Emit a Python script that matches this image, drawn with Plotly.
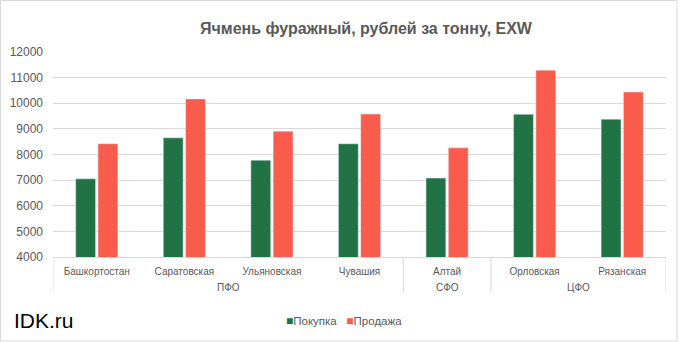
import plotly.graph_objects as go

regions = ["ПФО", "ПФО", "ПФО", "ПФО", "СФО", "ЦФО", "ЦФО"]
oblasts = ["Башкортостан", "Саратовская", "Ульяновская", "Чувашия", "Алтай", "Орловская", "Рязанская"]
buy = [7050, 8650, 7780, 8420, 7080, 9570, 9380]
sell = [8420, 10170, 8910, 9580, 8260, 11290, 10440]
y_ticks = [4000, 5000, 6000, 7000, 8000, 9000, 10000, 11000, 12000]
series_names = ["Покупка", "Продажа"]
colors = ["#217346", "#F95C4D"]

W, H = 681, 342
ml, mr, mt, mb = 53, 15, 52, 85
pw, ph = W - ml - mr, H - mt - mb

def px_x(p):
    return (p - ml) / pw

def px_y(p):
    return (H - mb - p) / ph

font = "Liberation Sans, Arial, sans-serif"
grey = "#595959"
line_grey = "#d9d9d9"

fig = go.Figure()
fig.add_trace(go.Bar(x=oblasts, y=buy, name=series_names[0], marker_color=colors[0]))
fig.add_trace(go.Bar(x=oblasts, y=sell, name=series_names[1], marker_color=colors[1]))

fig.update_layout(
    width=W, height=H,
    margin=dict(l=ml, r=mr, t=mt, b=mb, autoexpand=False),
    paper_bgcolor="white", plot_bgcolor="white",
    barmode="group", bargap=0.49, bargroupgap=0.11,
    title=dict(text="<b>Ячмень фуражный, рублей за тонну, EXW</b>",
               font=dict(family=font, size=16, color=grey),
               x=px_x(366), xref="paper", xanchor="center",
               y=1 - 28 / H, yanchor="middle"),
    font=dict(family=font, color=grey),
    showlegend=False,
)
fig.update_yaxes(range=[4000, 12000], tickvals=y_ticks, ticktext=[str(v) for v in y_ticks],
                 showgrid=True, gridcolor=line_grey,
                 gridwidth=1, zeroline=False, showline=False, ticklabelstandoff=9,
                 tickfont=dict(size=12, color=grey, family=font), ticks="")
fig.update_xaxes(type="category", range=[-0.5, len(oblasts) - 0.5],
                 showline=True, linecolor=line_grey, linewidth=1,
                 ticklabelstandoff=5, showgrid=False,
                 tickfont=dict(size=10, color=grey, family=font), ticks="")

# group labels and dividers (second category level)
groups = []
for i, r in enumerate(regions):
    if groups and groups[-1][0] == r:
        groups[-1][2] = i
    else:
        groups.append([r, i, i])
div_y0, div_y1 = px_y(292), 0
for name, a, b in groups:
    fig.add_annotation(text=name, x=(a + b) / 2, xref="x", y=px_y(287), yref="paper",
                       showarrow=False, xanchor="center", yanchor="middle",
                       font=dict(family=font, size=10, color=grey))
    fig.add_shape(type="line", xref="x", yref="paper", x0=a - 0.5, x1=a - 0.5,
                  y0=div_y0, y1=div_y1, line=dict(color=line_grey, width=1))
last = groups[-1][2] + 0.5
fig.add_shape(type="line", xref="x", yref="paper", x0=last, x1=last,
              y0=div_y0, y1=div_y1, line=dict(color=line_grey, width=1))

# legend drawn as text entries
legend_text = "   ".join(
    f'<span style="color:{c};font-size:12px">■</span><span style="color:{grey}">{n}</span>'
    for n, c in zip(series_names, colors))
fig.add_annotation(text=legend_text, x=px_x(344), y=px_y(321), xref="paper", yref="paper",
                   xanchor="center", yanchor="middle", showarrow=False,
                   font=dict(family=font, size=11.5, color=grey))

fig.add_annotation(text="IDK.ru", x=px_x(12), y=px_y(320), xref="paper", yref="paper",
                   xanchor="left", yanchor="middle", showarrow=False,
                   font=dict(family=font, size=21, color="#000000"))
fig.add_shape(type="rect", xref="paper", yref="paper",
              x0=px_x(0.5), x1=px_x(677), y0=px_y(341), y1=px_y(0.5),
              line=dict(color=line_grey, width=1), fillcolor="rgba(0,0,0,0)", layer="below")

fig.write_html("out.html")
